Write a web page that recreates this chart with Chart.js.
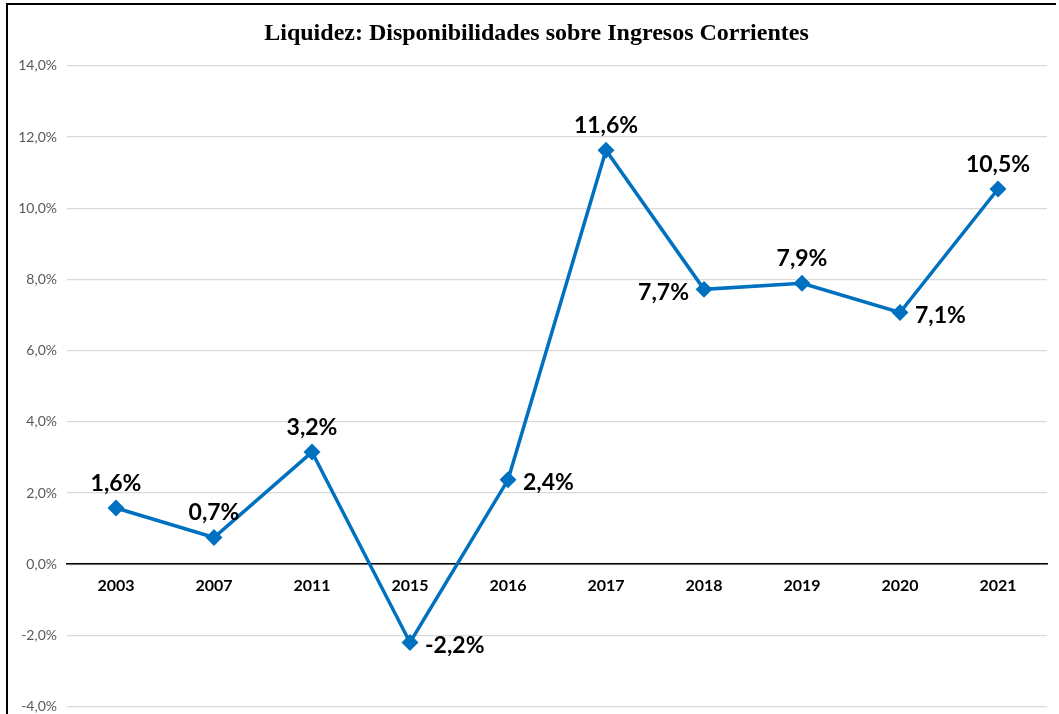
<!DOCTYPE html>
<html>
<head>
<meta charset="utf-8">
<script src="https://cdn.jsdelivr.net/npm/chart.js@4"></script>
<style>
  body { margin: 0; background: #fff; overflow: hidden; }
  #wrap { position: relative; width: 1059px; height: 714px; overflow: hidden; }
  #frame { position: absolute; left: 6px; top: 3px; right: 3px; bottom: -5px;
           border-left: 2px solid #000; border-top: 2px solid #000; pointer-events: none; }
</style>
</head>
<body>
<div id="wrap">
  <canvas id="liqChart" width="1059" height="725"></canvas>
  <div id="frame"></div>
</div>
<script>
    // datos
    const years = ['2003', '2007', '2011', '2015', '2016', '2017', '2018', '2019', '2020', '2021'];
    const liquidez = [1.58, 0.75, 3.15, -2.2, 2.37, 11.63, 7.72, 7.89, 7.07, 10.54];
    const labelTexts = ['1,6%', '0,7%', '3,2%', '-2,2%', '2,4%', '11,6%', '7,7%', '7,9%', '7,1%', '10,5%'];
    const labelSide = ['top', 'top', 'top', 'right', 'right', 'top', 'left', 'top', 'right', 'top'];

    const pointLabels = {
        id: 'pointLabels',
        afterLayout(chart) {
            // el eje Y ocupa también el margen izquierdo para que no se recorten las etiquetas
            chart.scales.y.left = 0;
        },
        afterDatasetsDraw(chart) {
            const ctx = chart.ctx;
            const meta = chart.getDatasetMeta(0);
            ctx.save();
            ctx.font = 'bold 23px Lato';
            ctx.fillStyle = '#000';
            meta.data.forEach((pt, i) => {
                const side = labelSide[i];
                let x = pt.x, y = pt.y;
                if (side === 'top') { ctx.textAlign = 'center'; ctx.textBaseline = 'bottom'; y -= 13; }
                if (side === 'right') { ctx.textAlign = 'left'; ctx.textBaseline = 'middle'; x += 15; y += 3; }
                if (side === 'left') { ctx.textAlign = 'right'; ctx.textBaseline = 'middle'; x -= 15; y += 3; }
                ctx.fillText(labelTexts[i], x, y);
            });
            ctx.restore();
        }
    };

    const ctx = document.getElementById('liqChart').getContext('2d');
    new Chart(ctx, {
        type: 'line',
        data: {
            labels: years,
            datasets: [{
                label: 'Liquidez',
                data: liquidez,
                borderColor: '#0070C0',
                backgroundColor: '#0070C0',
                borderWidth: 3.5,
                pointStyle: 'rectRot',
                pointRadius: 6,
                pointHoverRadius: 6,
                tension: 0,
                fill: false
            }]
        },
        options: {
            responsive: false,
            animation: false,
            layout: { padding: { left: 26, right: 12, bottom: 0 } },
            plugins: {
                legend: { display: false },
                tooltip: { enabled: false },
                title: {
                    display: true,
                    text: 'Liquidez: Disponibilidades sobre Ingresos Corrientes',
                    color: '#000',
                    font: { family: 'Liberation Serif', size: 24, weight: 'bold' },
                    padding: { top: 19, bottom: 18 }
                }
            },
            scales: {
                x: {
                    position: { y: 0 },
                    offset: true,
                    grid: { display: false, drawTicks: false },
                    border: { display: true, color: '#000', width: 1.5 },
                    ticks: { color: '#000', padding: 12, font: { family: 'Lato', size: 16, weight: 'bold' } }
                },
                y: {
                    min: -4,
                    max: 14,
                    ticks: {
                        stepSize: 2,
                        padding: 10,
                        color: '#595959',
                        font: { family: 'Lato', size: 14 },
                        callback: (v) => v.toFixed(1).replace('.', ',') + '%'
                    },
                    grid: { color: '#d9d9d9', lineWidth: 1.2, drawTicks: false },
                    border: { display: false },
                    afterFit: (scale) => { scale.width = 41; }
                }
            }
        },
        plugins: [pointLabels]
    });
</script>
</body>
</html>
